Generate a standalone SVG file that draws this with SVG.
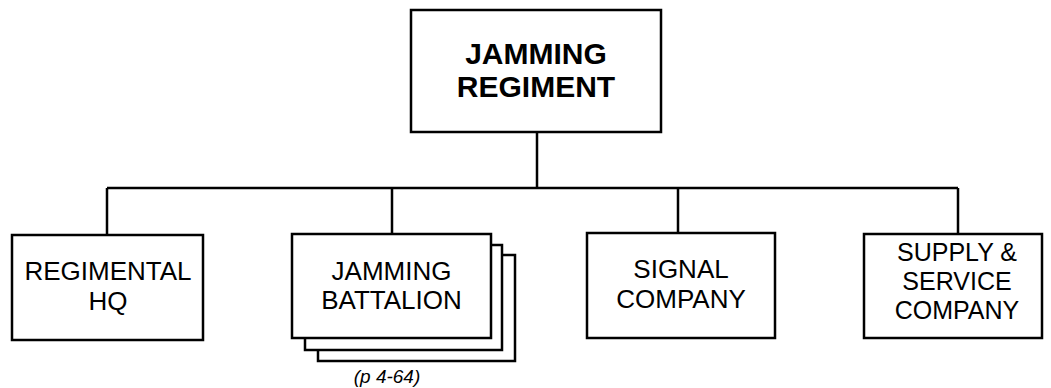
<svg xmlns="http://www.w3.org/2000/svg" width="1051" height="388" viewBox="0 0 1051 388">
<style>
.box{fill:#fff;stroke:#000;stroke-width:2.5}
.ln{fill:none;stroke:#000;stroke-width:2.5}
text{font-family:"Liberation Sans",Arial,sans-serif;text-anchor:middle;fill:#000}
.t{font-size:26px}
.s{font-size:25px}
.b{font-size:30px;font-weight:bold}
.n{font-size:19px;font-style:italic}
</style>
<rect width="1051" height="388" fill="#fff"/>
<g id="connectors">
<path class="ln" d="M537 132V188M107 188H958M107 188V235M392 188V234M678 188V233M958 188V234"/>
</g>
<g id="regiment">
<rect class="box" x="411" y="10" width="250" height="122"/>
<text class="b" x="536" y="64">JAMMING</text>
<text class="b" x="536" y="97">REGIMENT</text>
</g>
<g id="hq">
<rect class="box" x="12" y="235" width="191" height="105"/>
<text class="t" x="108" y="280">REGIMENTAL</text>
<text class="t" x="108" y="310">HQ</text>
</g>
<g id="battalion">
<rect class="box" x="318" y="255" width="197" height="106"/>
<rect class="box" x="305" y="245" width="197" height="105"/>
<rect class="box" x="292" y="234" width="199" height="104"/>
<text class="t" x="391.5" y="280">JAMMING</text>
<text class="t" x="391.5" y="309">BATTALION</text>
<text class="n" x="387" y="383">(p 4-64)</text>
</g>
<g id="signal">
<rect class="box" x="587" y="233" width="188" height="105"/>
<text class="t" x="681" y="278">SIGNAL</text>
<text class="t" x="681" y="308">COMPANY</text>
</g>
<g id="supply">
<rect class="box" x="864" y="234" width="178" height="104"/>
<text class="s" x="957" y="261">SUPPLY &amp;</text>
<text class="s" x="957" y="290">SERVICE</text>
<text class="s" x="957" y="319">COMPANY</text>
</g>
</svg>
